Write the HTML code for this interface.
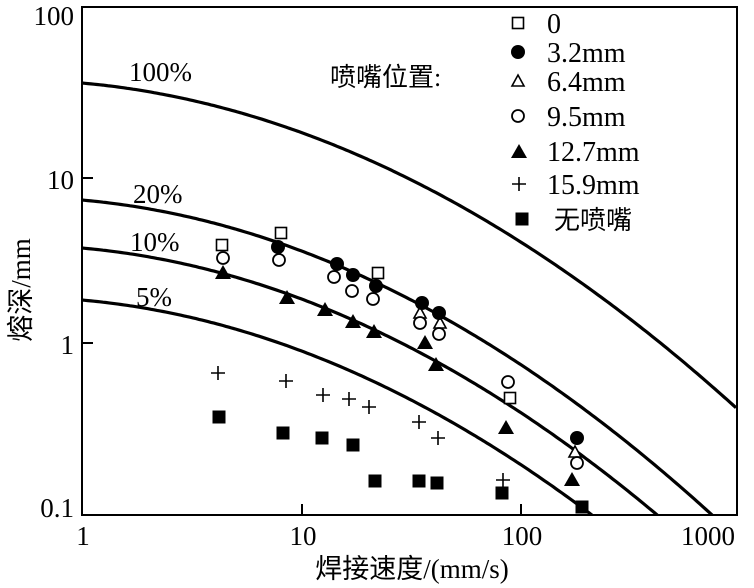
<!DOCTYPE html>
<html><head><meta charset="utf-8"><style>
html,body{margin:0;padding:0;background:#fff;width:754px;height:588px;overflow:hidden}
svg{display:block}
text{font-family:"Liberation Serif","Noto Serif CJK SC",serif;fill:#000}
.c{font-family:"Liberation Serif","Noto Sans CJK SC",serif}
</style></head><body>
<svg id="s" width="754" height="588" viewBox="0 0 754 588" xmlns="http://www.w3.org/2000/svg">
<defs><clipPath id="cp"><rect x="82" y="7" width="655" height="508"/></clipPath></defs>
<rect x="82" y="7" width="655" height="508" fill="none" stroke="#000" stroke-width="2"/>
<g stroke="#000" stroke-width="2">
<line x1="82" y1="178" x2="93" y2="178"/><line x1="82" y1="343" x2="93" y2="343"/>
<line x1="302" y1="515" x2="302" y2="504"/><line x1="521" y1="515" x2="521" y2="504"/>
</g>
<g font-size="27">
<text x="74" y="25" text-anchor="end">100</text>
<text x="74" y="189" text-anchor="end">10</text>
<text x="74" y="354" text-anchor="end">1</text>
<text x="74" y="517" text-anchor="end">0.1</text>
<text x="83" y="545" text-anchor="middle">1</text>
<text x="303" y="545" text-anchor="middle">10</text>
<text x="522" y="545" text-anchor="middle">100</text>
<text x="708" y="545" text-anchor="middle">1000</text>
</g>
<text class="c" x="412" y="578" font-size="27" text-anchor="middle">焊接速度/(mm/s)</text>
<text class="c" transform="translate(30,290) rotate(-90)" font-size="27" text-anchor="middle">熔深/mm</text>
<g id="curves" fill="none" stroke="#000" stroke-width="3.2" clip-path="url(#cp)"></g>
<g font-size="27">
<text x="129" y="81">100%</text>
<text x="133" y="203">20%</text>
<text x="130" y="251">10%</text>
<text x="136" y="306">5%</text>
</g>
<text class="c" x="330" y="86" font-size="26">喷嘴位置:</text>
<g font-size="28">
<text x="547" y="33">0</text>
<text x="547" y="62">3.2mm</text>
<text x="547" y="91">6.4mm</text>
<text x="547" y="126">9.5mm</text>
<text x="547" y="161">12.7mm</text>
<text x="547" y="194">15.9mm</text>
<text class="c" x="554" y="229" font-size="26">无喷嘴</text>
</g>
<defs>
<rect id="os" x="-5.5" y="-5.5" width="11" height="11" fill="#fff" stroke="#000" stroke-width="1.6"/>
<circle id="fc" r="7" fill="#000"/>
<circle id="oc" r="6" fill="#fff" stroke="#000" stroke-width="1.8"/>
<path id="ot" d="M0,-6 L6,5 L-6,5 Z" fill="#fff" stroke="#000" stroke-width="1.6"/>
<path id="ft" d="M0,-8 L8,6 L-8,6 Z" fill="#000"/>
<path id="pl" d="M-7,0 H7 M0,-7 V7" stroke="#000" stroke-width="1.6"/>
<rect id="fs" x="-6.5" y="-6.5" width="13" height="13" fill="#000"/>
</defs>
<use href="#os" x="518" y="23"/><use href="#fc" x="518" y="52"/><use href="#ot" x="518" y="81"/>
<use href="#oc" x="518" y="116"/><use href="#ft" x="519" y="152"/><use href="#pl" x="519" y="184"/><use href="#fs" x="522" y="219"/>
<use href="#os" x="222" y="245"/><use href="#os" x="281" y="233"/><use href="#os" x="378" y="273"/><use href="#os" x="510" y="398"/>
<use href="#ot" x="420" y="313"/><use href="#ot" x="440" y="323"/><use href="#ot" x="575" y="452"/>
<use href="#fc" x="278" y="247"/><use href="#fc" x="337" y="264"/><use href="#fc" x="353" y="275"/><use href="#fc" x="376" y="286"/><use href="#fc" x="422" y="303"/><use href="#fc" x="439" y="313"/><use href="#fc" x="577" y="438"/>
<use href="#oc" x="223" y="258"/><use href="#oc" x="279" y="260"/><use href="#oc" x="334" y="277"/><use href="#oc" x="352" y="291"/><use href="#oc" x="373" y="299"/><use href="#oc" x="420" y="323"/><use href="#oc" x="439" y="334"/><use href="#oc" x="508" y="382"/><use href="#oc" x="577" y="463"/>
<use href="#ft" x="223" y="273"/><use href="#ft" x="287" y="298"/><use href="#ft" x="325" y="310"/><use href="#ft" x="353" y="322"/><use href="#ft" x="374" y="332"/><use href="#ft" x="425" y="343"/><use href="#ft" x="436" y="365"/><use href="#ft" x="506" y="428"/><use href="#ft" x="572" y="480"/>
<use href="#pl" x="218" y="373"/><use href="#pl" x="286" y="381"/><use href="#pl" x="323" y="395"/><use href="#pl" x="349" y="399"/><use href="#pl" x="369" y="407"/><use href="#pl" x="419" y="422"/><use href="#pl" x="438" y="438"/><use href="#pl" x="503" y="480"/>
<use href="#fs" x="219" y="417"/><use href="#fs" x="283" y="433"/><use href="#fs" x="322" y="438"/><use href="#fs" x="353" y="445"/><use href="#fs" x="375" y="481"/><use href="#fs" x="419" y="481"/><use href="#fs" x="437" y="483"/><use href="#fs" x="502" y="493"/><use href="#fs" x="582" y="507"/>
</svg>
<script>
(function(){
var g=document.getElementById('curves');
var P=[[83,19.6,30],[200,19.6,31.4],[248,19.6,31.4],[300,19.6,31.4]];
P.forEach(function(p){
  var d='';
  for(var px=82;px<=738;px+=3){
    var u=(px-82)/219.5;
    var py=p[0]+p[1]*u+p[2]*u*u;
    d+=(d?'L':'M')+px.toFixed(1)+','+py.toFixed(1);
  }
  var e=document.createElementNS('http://www.w3.org/2000/svg','path');
  e.setAttribute('d',d);g.appendChild(e);
});
})();
</script>
</body></html>
